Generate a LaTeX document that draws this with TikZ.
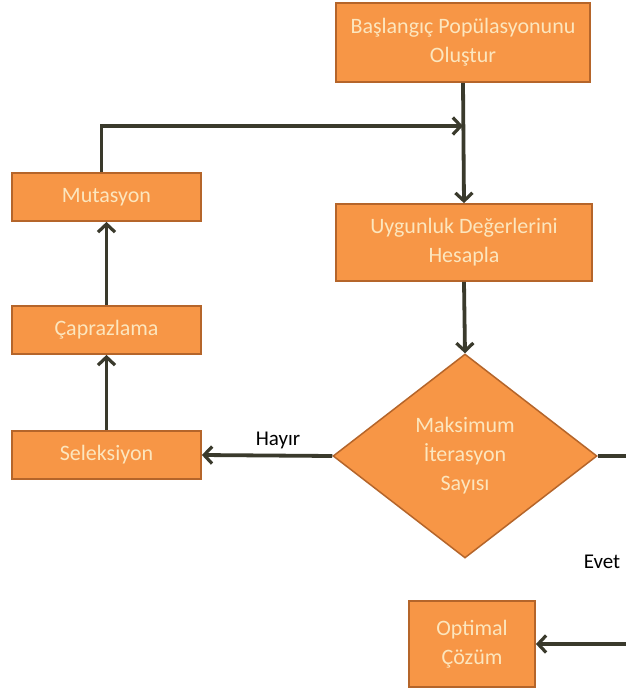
\documentclass[tikz,border=0pt]{standalone}
\usepackage{fontspec}
\setmainfont{Carlito}
\usetikzlibrary{shapes.geometric,arrows.meta}
\definecolor{boxfill}{HTML}{F79646}
\definecolor{boxline}{HTML}{B5652A}
\definecolor{boxtext}{HTML}{FCE6BE}
\definecolor{linecol}{HTML}{3A3A2C}
\tikzset{
  box/.style={draw=boxline, line width=1.8pt, fill=boxfill, text=boxtext, align=center,
    font=\fontsize{22}{29}\selectfont, inner sep=0pt},
  dia/.style={diamond, draw=boxline, line width=1.5pt, fill=boxfill, text=boxtext, align=center,
    font=\fontsize{22}{29}\selectfont, inner sep=0pt, minimum width=264pt, minimum height=204pt},
  conn/.style={draw=linecol, line width=3.8pt, -{Straight Barb[length=8pt,width=17pt,line width=3.2pt]}},
  lbl/.style={text=black, font=\fontsize{21}{25}\selectfont, inner sep=0pt}
}
\begin{document}
\begin{tikzpicture}[x=1pt,y=-1pt]
\clip (0,0) rectangle (626,691);
\fill[white] (0,0) rectangle (626,691);
\node[box, minimum width=254pt, minimum height=79pt] (start) at (463,42.5) {Başlangıç Popülasyonunu\\Oluştur};
\node[box, minimum width=256pt, minimum height=77pt] (fit) at (464,242.5) {Uygunluk Değerlerini\\Hesapla};
\node[box, minimum width=189pt, minimum height=48pt] (mut) at (106.5,197) {Mutasyon};
\node[box, minimum width=189pt, minimum height=48pt] (cap) at (106.5,330) {Çaprazlama};
\node[box, minimum width=189pt, minimum height=48pt] (sel) at (106.5,455) {Seleksiyon};
\node[dia] (dec) at (465,456) {Maksimum\\İterasyon\\Sayısı};
\node[box, minimum width=126pt, minimum height=86pt] (opt) at (472,644) {Optimal\\Çözüm};
\node[lbl] (hayir) at (278,440) {Hayır};
\node[lbl] (evet) at (602,562) {Evet};
\coordinate (j) at (463,126);
\coordinate (r1) at (650,456);
\coordinate (r2) at (650,644);
\draw[conn] (start.south) -- (fit.north);
\draw[conn] (fit.south) -- (dec.north);
\draw[conn] (dec.west) -- (sel.east);
\draw[conn] (sel.north) -- (cap.south);
\draw[conn] (cap.north) -- (mut.south);
\draw[conn] ([xshift=-5pt]mut.north) |- (j);
\draw[conn] (dec.east) -- (r1) -- (r2) -- (opt.east);
\end{tikzpicture}
\end{document}
